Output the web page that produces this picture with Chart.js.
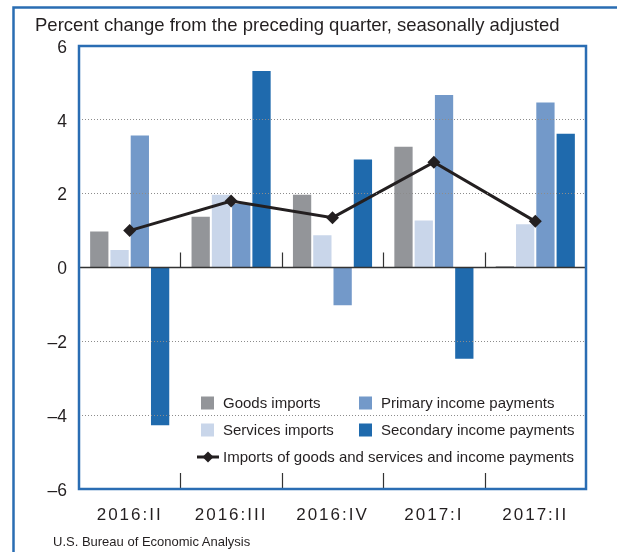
<!DOCTYPE html>
<html><head><meta charset="utf-8">
<script src="https://cdn.jsdelivr.net/npm/chart.js@4.4.1/dist/chart.umd.min.js"></script>
<style>
html,body{margin:0;padding:0;background:#fff;}
#wrap{position:relative;width:617px;height:552px;overflow:hidden;}
canvas{position:absolute;left:0;top:0;}
.t{position:absolute;font-family:"Liberation Sans",Arial,Helvetica,sans-serif;color:#231f20;white-space:nowrap;line-height:normal;}
</style></head><body>
<div id="wrap">
<canvas id="c" width="617" height="552"></canvas>
<div class="t" id="title" style="left:35px;top:14px;font-size:18.5px;">Percent change from the preceding quarter, seasonally adjusted</div>
<div class="t" id="src" style="left:53px;top:534px;font-size:13px;">U.S. Bureau of Economic Analysis</div>
</div>
<script>
const categories = ['2016:II', '2016:III', '2016:IV', '2017:I', '2017:II'];
const goodsImports = [1.0, 1.4, 2.0, 3.3, 0.05];
const servicesImports = [0.5, 2.0, 0.9, 1.3, 1.2];
const primaryIncomePayments = [3.6, 1.75, -1.05, 4.7, 4.5];
const secondaryIncomePayments = [-4.3, 5.35, 2.95, -2.5, 3.65];
const totalImportsAndPayments = [1.0, 1.8, 1.35, 2.85, 1.25];
const yTickValues = [-6, -4, -2, 0, 2, 4, 6];
const seriesNames = ['Goods imports', 'Services imports', 'Primary income payments', 'Secondary income payments', 'Imports of goods and services and income payments'];

const FONT = '"Liberation Sans", Arial, Helvetica, sans-serif';
const TEXT = '#231f20';
const FRAME = '#2a6db3';

const decor = {
  id: 'decor',
  beforeDraw(chart) {
    chart.ctx.letterSpacing = '2px';
  },
  beforeDatasetsDraw(chart) {
    chart.ctx.letterSpacing = '0px';
  },
  afterDatasetsDraw(chart) {
    const ctx = chart.ctx, a = chart.chartArea;
    const xs = chart.scales.x, ys = chart.scales.y;
    const y0 = ys.getPixelForValue(0);
    ctx.save();
    ctx.strokeStyle = '#333';
    ctx.lineWidth = 1.5;
    ctx.beginPath();
    ctx.moveTo(a.left, y0); ctx.lineTo(a.right, y0);
    ctx.stroke();
    ctx.lineWidth = 1.2;
    for (let i = 1; i < categories.length; i++) {
      const xb = Math.round((xs.getPixelForValue(i - 1) + xs.getPixelForValue(i)) / 2) + 0.5;
      ctx.beginPath();
      ctx.moveTo(xb, y0); ctx.lineTo(xb, y0 - 15);
      ctx.moveTo(xb, a.bottom); ctx.lineTo(xb, a.bottom - 16);
      ctx.stroke();
    }
    ctx.restore();
  },
  afterDraw(chart) {
    const ctx = chart.ctx, a = chart.chartArea;
    ctx.save();
    ctx.letterSpacing = '0px';
    ctx.strokeStyle = FRAME;
    ctx.lineWidth = 2.5;
    ctx.strokeRect(a.left, a.top, a.right - a.left, a.bottom - a.top);
    ctx.beginPath();
    ctx.moveTo(13.5, 560); ctx.lineTo(13.5, 7.5); ctx.lineTo(630, 7.5);
    ctx.stroke();
    const ds = chart.data.datasets;
    ctx.font = '15px ' + FONT;
    ctx.textBaseline = 'middle';
    const lx1 = a.left + 122, lx2 = a.left + 280;
    const rows = [a.top + 357, a.top + 384, a.top + 411];
    const items = [[0, lx1, rows[0]], [2, lx2, rows[0]], [1, lx1, rows[1]], [3, lx2, rows[1]]];
    items.forEach(([i, x, y]) => {
      ctx.fillStyle = ds[i].backgroundColor;
      ctx.fillRect(x, y - 6.5, 13, 13);
      ctx.fillStyle = TEXT;
      ctx.fillText(ds[i].label, x + 22, y + 0.5);
    });
    const l = ds[4];
    const ly = rows[2];
    ctx.strokeStyle = l.borderColor;
    ctx.lineWidth = 3;
    ctx.beginPath();
    ctx.moveTo(lx1 - 4, ly); ctx.lineTo(lx1 + 18, ly);
    ctx.stroke();
    ctx.fillStyle = l.borderColor;
    ctx.beginPath();
    const cx = lx1 + 7;
    ctx.moveTo(cx, ly - 5.5); ctx.lineTo(cx + 5.5, ly); ctx.lineTo(cx, ly + 5.5); ctx.lineTo(cx - 5.5, ly);
    ctx.closePath(); ctx.fill();
    ctx.fillStyle = TEXT;
    ctx.fillText(l.label, lx1 + 22, ly + 0.5);
    ctx.restore();
  }
};

const barBorder = 'rgba(255,255,255,0.25)';
new Chart(document.getElementById('c'), {
  type: 'bar',
  data: {
    labels: categories,
    datasets: [
      { label: seriesNames[0], data: goodsImports, backgroundColor: '#939599', borderColor: barBorder, borderWidth: 1, order: 1 },
      { label: seriesNames[1], data: servicesImports, backgroundColor: '#c9d6ea', borderColor: barBorder, borderWidth: 1, order: 1 },
      { label: seriesNames[2], data: primaryIncomePayments, backgroundColor: '#7399c9', borderColor: barBorder, borderWidth: 1, order: 1 },
      { label: seriesNames[3], data: secondaryIncomePayments, backgroundColor: '#1f6aad', borderColor: barBorder, borderWidth: 1, order: 1 },
      { type: 'line', label: seriesNames[4], data: totalImportsAndPayments, borderColor: '#231f20', backgroundColor: '#231f20',
        borderWidth: 3, pointStyle: 'rectRot', pointRadius: 6.5, pointBackgroundColor: '#231f20', pointBorderWidth: 0, order: 0 }
    ]
  },
  options: {
    responsive: false,
    animation: false,
    events: [],
    layout: { padding: { left: 0, top: 46, right: 31, bottom: 0 } },
    datasets: { bar: { categoryPercentage: 0.8, barPercentage: 1.0 } },
    plugins: { legend: { display: false }, title: { display: false }, tooltip: { enabled: false } },
    scales: {
      x: {
        grid: { display: false },
        border: { display: false },
        ticks: { color: TEXT, font: { family: FONT, size: 17 }, padding: 8, maxRotation: 0, autoSkip: false },
        afterFit(s) { s.height = 63; }
      },
      y: {
        min: -6, max: 6,
        afterBuildTicks(s) { s.ticks = yTickValues.map(v => ({ value: v })); },
        grid: {
          z: 1,
          drawTicks: false,
          lineWidth: 1,
          color: c => (c.tick && (c.tick.value === 0 || Math.abs(c.tick.value) === 6)) ? 'rgba(0,0,0,0)' : '#8c8c8c'
        },
        border: { display: false, dash: [1, 2] },
        ticks: {
          z: 2,
          color: TEXT, font: { family: FONT, size: 17.5 }, padding: 12, labelOffset: 2,
          callback: v => v < 0 ? '\u2013' + Math.abs(v) : String(v)
        },
        afterFit(s) { s.width = 79; }
      }
    }
  },
  plugins: [decor]
});
</script>
</body></html>
